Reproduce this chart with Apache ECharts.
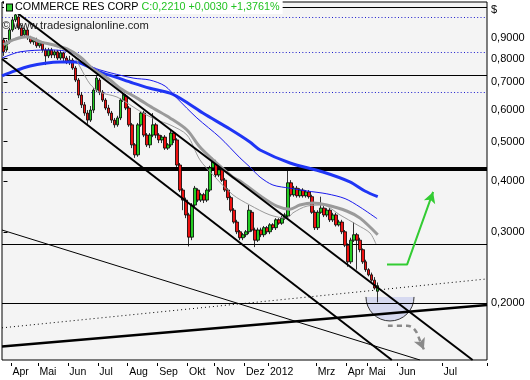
<!DOCTYPE html>
<html><head><meta charset="utf-8">
<script src="https://cdn.jsdelivr.net/npm/echarts@6/dist/echarts.min.js"></script>
<style>html,body{margin:0;padding:0;background:#fff}#c{width:530px;height:380px}</style>
</head><body><div id="c"></div>
<script>
// ---- data ----
const N_SLOTS = 162;                 // candle slots on the time axis (incl. future space)
const monthLabels = ['Apr','Mai','Jun','Jul','Aug','Sep','Okt','Nov','Dez','2012','Mrz','Apr','Mai','Jun','Jul'];
const monthSlots  = [3,12,22,32,42,52,62,71,81,89,105,115,122,132,147];
const yTicks = [0.2,0.3,0.4,0.5,0.6,0.7,0.8,0.9];
const Y_MIN = 0.145, Y_MAX = 1.1036;

const opens = [0.890,0.841,0.880,0.942,0.997,1.014,0.953,0.916,0.942,0.901,
0.880,0.890,0.861,0.876,0.841,0.813,0.841,0.817,0.832,0.803,
0.827,0.803,0.785,0.794,0.759,0.709,0.651,0.616,0.588,0.565,
0.598,0.670,0.709,0.662,0.633,0.605,0.588,0.565,0.550,0.572,
0.633,0.647,0.605,0.550,0.491,0.464,0.550,0.588,0.519,0.491,
0.519,0.550,0.519,0.505,0.513,0.482,0.491,0.525,0.505,0.438,
0.380,0.359,0.330,0.291,0.349,0.380,0.359,0.370,0.359,0.380,
0.431,0.443,0.414,0.426,0.402,0.380,0.364,0.339,0.317,0.300,
0.290,0.295,0.300,0.335,0.303,0.286,0.303,0.295,0.307,0.300,
0.312,0.307,0.321,0.315,0.324,0.328,0.396,0.370,0.384,0.368,
0.380,0.368,0.376,0.366,0.335,0.307,0.335,0.343,0.330,0.339,
0.321,0.330,0.312,0.317,0.300,0.278,0.253,0.286,0.295,0.286,
0.271,0.253,0.242,0.235,0.228,0.214];
const closes = [0.832,0.880,0.942,0.997,1.026,0.953,0.911,0.942,0.901,0.880,
0.890,0.861,0.876,0.841,0.813,0.841,0.817,0.832,0.803,0.827,
0.803,0.785,0.794,0.759,0.709,0.651,0.616,0.588,0.565,0.598,
0.670,0.717,0.662,0.633,0.605,0.588,0.565,0.550,0.572,0.633,
0.651,0.605,0.550,0.491,0.464,0.550,0.588,0.519,0.491,0.519,
0.550,0.519,0.505,0.513,0.482,0.491,0.525,0.505,0.438,0.380,
0.359,0.330,0.291,0.349,0.384,0.359,0.370,0.359,0.380,0.431,
0.446,0.414,0.426,0.402,0.380,0.364,0.339,0.317,0.300,0.290,
0.295,0.300,0.339,0.303,0.286,0.303,0.295,0.307,0.300,0.312,
0.307,0.321,0.315,0.324,0.330,0.396,0.370,0.384,0.368,0.380,
0.368,0.376,0.366,0.335,0.307,0.335,0.343,0.330,0.339,0.321,
0.330,0.312,0.317,0.300,0.278,0.253,0.286,0.295,0.286,0.271,
0.253,0.242,0.235,0.228,0.218,0.221];
const lows = [0.813,0.832,0.871,0.932,0.985,0.942,0.901,0.901,0.890,0.871,
0.866,0.851,0.851,0.832,0.772,0.803,0.803,0.803,0.794,0.794,
0.785,0.776,0.772,0.751,0.701,0.640,0.605,0.579,0.553,0.559,
0.588,0.662,0.651,0.626,0.598,0.579,0.556,0.541,0.544,0.565,
0.626,0.598,0.544,0.482,0.456,0.459,0.544,0.513,0.485,0.482,
0.513,0.510,0.496,0.496,0.477,0.477,0.485,0.496,0.433,0.376,
0.339,0.324,0.276,0.286,0.345,0.355,0.355,0.353,0.355,0.376,
0.426,0.409,0.409,0.398,0.376,0.359,0.335,0.314,0.296,0.286,
0.286,0.291,0.296,0.300,0.275,0.283,0.291,0.291,0.296,0.296,
0.303,0.303,0.312,0.312,0.321,0.324,0.366,0.366,0.364,0.364,
0.364,0.364,0.362,0.332,0.303,0.303,0.332,0.326,0.326,0.317,
0.317,0.309,0.309,0.296,0.275,0.246,0.250,0.283,0.242,0.267,
0.250,0.239,0.233,0.226,0.216,0.201];
const highs = [0.901,0.890,0.953,1.014,1.035,1.026,0.969,0.953,0.953,0.911,
0.901,0.901,0.890,0.880,0.851,0.851,0.851,0.841,0.841,0.841,
0.832,0.813,0.813,0.803,0.768,0.717,0.662,0.626,0.598,0.612,
0.677,0.730,0.717,0.670,0.640,0.616,0.595,0.572,0.579,0.640,
0.662,0.655,0.612,0.556,0.496,0.556,0.595,0.595,0.525,0.525,
0.588,0.556,0.525,0.519,0.519,0.496,0.534,0.531,0.510,0.443,
0.384,0.364,0.334,0.353,0.389,0.384,0.374,0.374,0.384,0.436,
0.456,0.451,0.431,0.431,0.407,0.384,0.368,0.343,0.321,0.303,
0.298,0.303,0.349,0.339,0.307,0.307,0.307,0.310,0.310,0.315,
0.315,0.324,0.324,0.328,0.334,0.431,0.402,0.389,0.389,0.384,
0.384,0.380,0.380,0.370,0.339,0.339,0.366,0.347,0.343,0.343,
0.334,0.334,0.321,0.321,0.303,0.281,0.290,0.317,0.298,0.290,
0.273,0.256,0.244,0.238,0.232,0.225];

// moving averages read as [slot, price]
const maThickBlue = [[-0.5,0.726],[3.8,0.747],[8.9,0.768],[13.9,0.780],[18.9,0.785],[23.9,0.785],[27.2,0.772],[32.2,0.742],[37.2,0.722],[43.3,0.697],[48.9,0.677],[55.6,0.658],[60.6,0.629],[66.6,0.588],[75.6,0.537],[82.3,0.499],[85.7,0.477],[95.7,0.443],[106.7,0.421],[115.7,0.398],[120.7,0.378],[125,0.366]];
const maThinBlue = [[-0.5,0.803],[5.5,0.832],[15.5,0.841],[23.2,0.827],[27.9,0.776],[32.2,0.751],[43.3,0.717],[48.9,0.709],[54,0.685],[57.9,0.640],[64.6,0.572],[72.3,0.512],[79,0.456],[82.3,0.433],[85.7,0.409],[90,0.391],[95.7,0.384],[101.4,0.378],[108,0.372],[114.1,0.362],[119.1,0.345],[124.8,0.323]];
const maThickGray = [[0,0.866],[3.2,0.890],[7.8,0.906],[12.2,0.880],[16.5,0.866],[21.2,0.846],[25.6,0.808],[29.9,0.755],[35.6,0.709],[38.9,0.677],[44.6,0.640],[49.9,0.605],[55.6,0.572],[61.3,0.534],[65.6,0.485],[70,0.451],[76.6,0.409],[79,0.400],[85.7,0.368],[91.3,0.347],[95.7,0.341],[99,0.349],[103.4,0.353],[108,0.349],[114.8,0.337],[119.1,0.324],[125,0.295]];
const maThinGray = [[0.5,0.841],[2.2,0.880],[5.5,0.906],[8.9,0.906],[13.2,0.880],[17.9,0.856],[23.2,0.817],[25.6,0.763],[28.9,0.693],[32.2,0.662],[37.9,0.644],[43.3,0.609],[46.6,0.588],[51.3,0.565],[55.6,0.550],[61.3,0.519],[65.6,0.451],[70,0.414],[76.6,0.370],[82.3,0.349],[89,0.330],[94.7,0.324],[96.7,0.334],[101.4,0.347],[106.7,0.349],[112.4,0.330],[118.1,0.312],[122.4,0.298],[124.4,0.280]];

// drawn trend lines [slot, price]
const trendUpper  = [[-0.19,1.1036],[156.7,0.145]];
const trendLower  = [[-0.5,0.799],[129.7,0.145]];
const trendThin   = [[-0.5,0.303],[139.1,0.145]];
const supportThick= [[-0.5,0.1566],[161.5,0.198]];
const supportDot  = [[-0.5,0.174],[161.5,0.2296]];
const levelsThin  = [1.074,0.734,0.283,0.196];
const levelThick  = 0.432;
const levelsDotted= [1.008,0.833,0.659];
const greenArrow  = [[128.1,0.249],[134.8,0.249],[143.5,0.376]];
const grayArrow   = [[128.4,0.176],[134.8,0.176],[137.4,0.172],[139.1,0.162],[140.4,0.154]];
const halfCircle  = [[129.1,0.2073,0.1809]]; // centre slot, centre price, bottom price

// ---- chart ----
const FONT = '"Liberation Sans", Arial, sans-serif';
const categories = Array.from({length:N_SLOTS}, () => '');
monthSlots.forEach((s,k) => { categories[s] = monthLabels[k]; });
const tickSet = new Set(monthSlots);
const candles = opens.map((o,i) => [o, closes[i], lows[i], highs[i]]);

function lineSeries(data, color, width, extra) {
  return Object.assign({
    type:'line', xAxisIndex:1, yAxisIndex:0, data:data, symbol:'none', silent:true,
    lineStyle:{color:color, width:width}, z:4
  }, extra || {});
}

const markLines = [];
levelsThin.forEach(v => markLines.push({yAxis:v, lineStyle:{color:'#000', width:1, type:'solid'}}));
markLines.push({yAxis:levelThick, lineStyle:{color:'#000', width:4, type:'solid'}});
levelsDotted.forEach(v => markLines.push({yAxis:v, lineStyle:{color:'#1a1acc', width:1, type:[1,2.3]}}));

const greenData = greenArrow.map((p,i) => i === greenArrow.length-1
  ? {value:p, symbol:'arrow', symbolSize:[9,11], symbolRotate:-19} : {value:p, symbol:'none'});
const grayData = grayArrow.map((p,i) => i === grayArrow.length-1
  ? {value:p, symbol:'arrow', symbolSize:[9,11], symbolRotate:204} : {value:p, symbol:'none'});

const chart = echarts.init(document.getElementById('c'), null, {renderer:'canvas'});
chart.setOption({
  animation:false,
  backgroundColor:'#ffffff',
  textStyle:{fontFamily:FONT},
  title:[
    {left:5, top:1, padding:[1,3,1,2], backgroundColor:'#ffffff',
     text:'{ic|} {n|COMMERCE RES CORP} {g|C:0,2210 +0,0030 +1,3761%}',
     textStyle:{fontWeight:'normal', fontSize:10.8, rich:{
       ic:{width:5, height:6, backgroundColor:'#33cc33', borderColor:'#000', borderWidth:1},
       n:{fontSize:10.8, color:'#000', fontWeight:'normal', fontFamily:FONT},
       g:{fontSize:10.8, color:'#22c322', fontWeight:'normal', fontFamily:FONT}
     }}},
    {left:2, top:20, padding:0, text:'© www.tradesignalonline.com',
     textStyle:{fontSize:11.2, color:'#222', fontWeight:'normal', fontFamily:FONT}},
    {left:491, top:4, padding:0, text:'$', textStyle:{fontSize:11, color:'#000', fontWeight:'normal', fontFamily:FONT}}
  ],
  grid:{left:2, right:43, top:2, bottom:20, show:true, backgroundColor:'#f4f4f4', borderColor:'#000', borderWidth:1, containLabel:false},
  xAxis:[
    {type:'category', data:categories, boundaryGap:true, offset:3,
     axisLine:{show:false},
     axisTick:{show:true, length:3, interval:(i) => tickSet.has(i), lineStyle:{color:'#000'}},
     axisLabel:{interval:0, align:'left', margin:4, fontSize:10.5, color:'#000', fontFamily:FONT},
     splitLine:{show:false}},
    {type:'value', min:-0.5, max:N_SLOTS-0.5, show:false, splitLine:{show:false}}
  ],
  yAxis:[{type:'log', logBase:10, position:'right', min:Y_MIN, max:Y_MAX, offset:2,
    axisLine:{show:false}, splitLine:{show:false},
    axisTick:{show:true, length:4, customValues:yTicks, lineStyle:{color:'#000'}},
    axisLabel:{customValues:yTicks, margin:2, fontSize:11, color:'#000', fontFamily:FONT,
      formatter:(v) => Number(v).toFixed(4).replace('.', ',')}}],
  series:[
    {type:'custom', xAxisIndex:1, yAxisIndex:0, data:halfCircle, silent:true, z:1,
     renderItem:(params, api) => {
       const c = api.coord([api.value(0), api.value(1)]);
       const b = api.coord([api.value(0), api.value(2)]);
       const r = b[1] - c[1];
       return {type:'group', children:[
         {type:'sector', shape:{cx:c[0], cy:c[1], r0:0, r:r, startAngle:0, endAngle:Math.PI, clockwise:true},
          style:{fill:'#d6d9f0'}},
         {type:'arc', shape:{cx:c[0], cy:c[1], r:r, startAngle:0, endAngle:Math.PI, clockwise:true},
          style:{stroke:'#333', lineWidth:1, fill:null}}
       ]};
     }},
    {type:'candlestick', xAxisIndex:0, yAxisIndex:0, data:candles, barWidth:'100%', silent:true, z:3,
     itemStyle:{color:'#22cc22', color0:'#ee1111', borderColor:'#000', borderColor0:'#000', borderWidth:0.8},
     markLine:{silent:true, symbol:['none','none'], label:{show:false}, data:markLines, z:2}},
    lineSeries(maThickBlue, '#1f35f5', 3, {smooth:0.3}),
    lineSeries(maThinBlue, '#1a1aee', 1, {smooth:0.3}),
    lineSeries(maThickGray, '#9a9a9a', 3, {smooth:0.3}),
    lineSeries(maThinGray, '#9a9a9a', 1, {smooth:0.3}),
    lineSeries(trendUpper, '#000', 2, {z:5}),
    lineSeries(trendLower, '#000', 2, {z:5}),
    lineSeries(trendThin, '#000', 1, {z:5}),
    lineSeries(supportThick, '#000', 2.5, {z:5}),
    lineSeries(supportDot, '#000', 1, {z:5, lineStyle:{color:'#000', width:1, type:[1,3]}}),
    {type:'line', xAxisIndex:1, yAxisIndex:0, data:greenData, showSymbol:true, silent:true, z:6,
     lineStyle:{color:'#33cc33', width:2}, itemStyle:{color:'#33cc33'}},
    {type:'line', xAxisIndex:1, yAxisIndex:0, data:grayData, showSymbol:true, silent:true, z:6, smooth:0.4,
     lineStyle:{color:'#8a8a8a', width:2.5, type:[5,4]}, itemStyle:{color:'#8a8a8a'}}
  ]
});
</script></body></html>
